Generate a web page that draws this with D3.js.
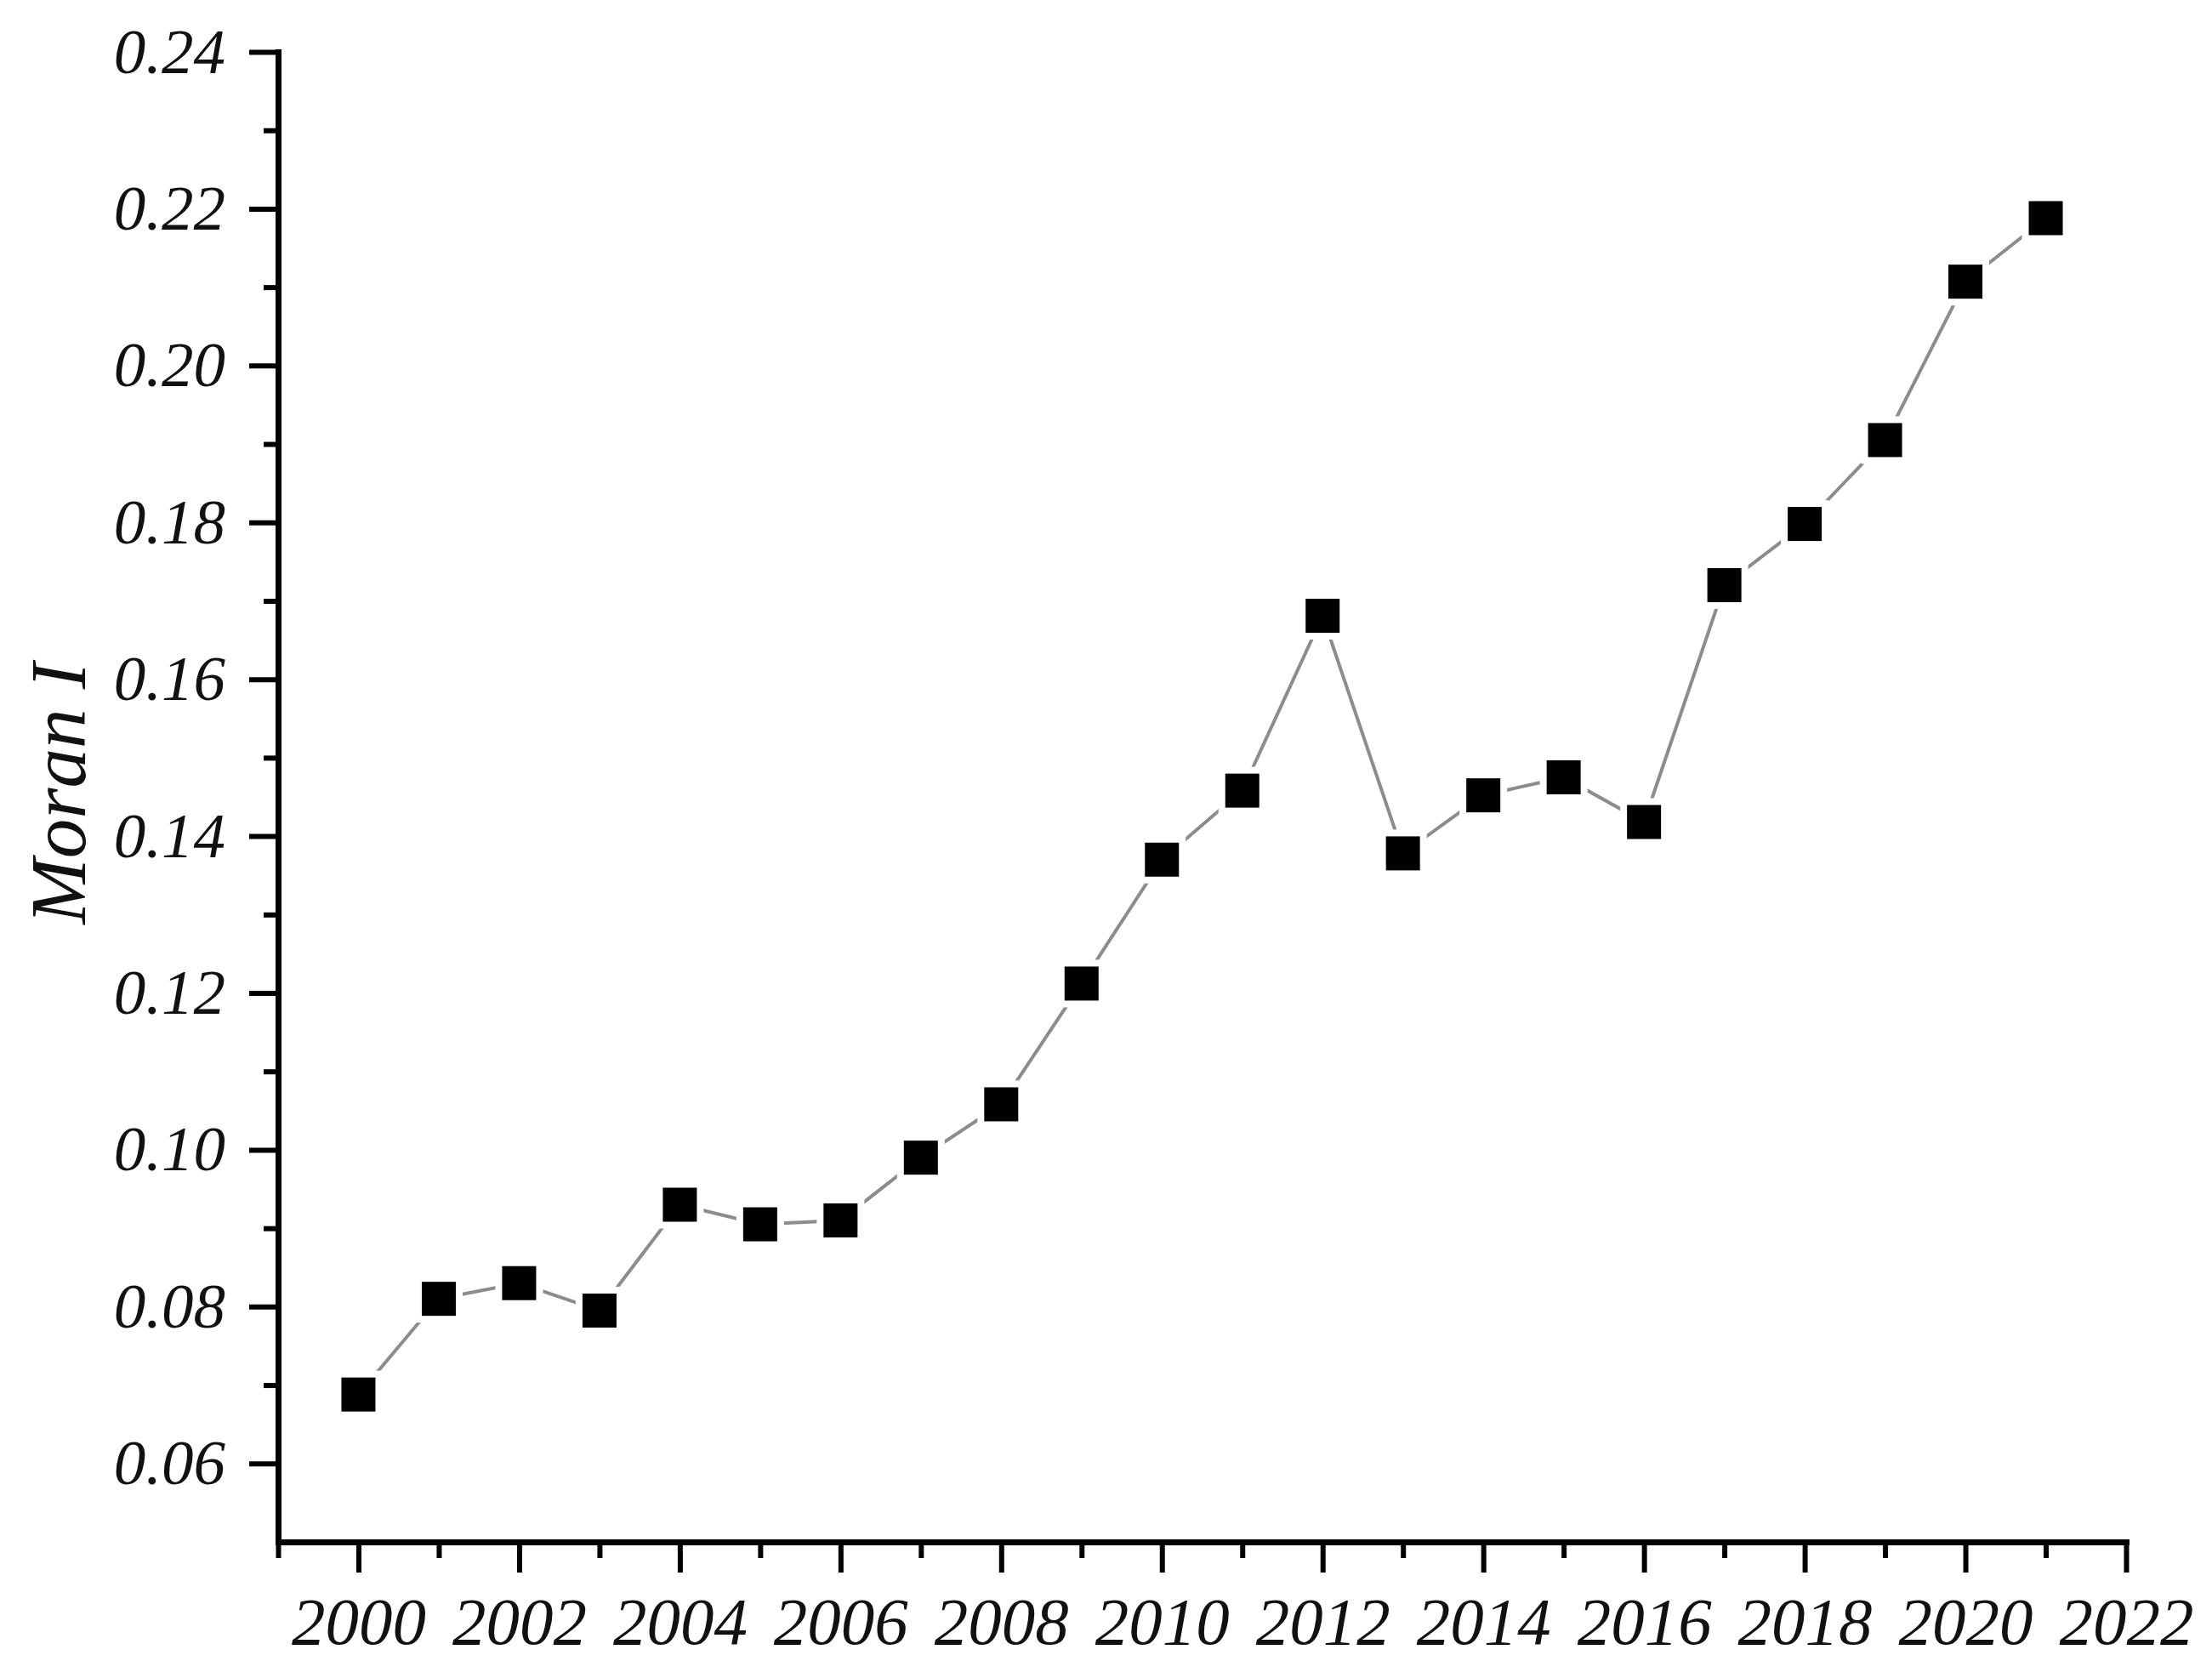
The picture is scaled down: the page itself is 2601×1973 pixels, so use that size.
<html>
<head>
<script src="https://d3js.org/d3.v7.min.js"></script>
<style>
  body { margin: 0; background: #fff; }
  svg { font-family: "Liberation Serif", "Times New Roman", serif; }
</style>
</head>
<body>
<svg id="chart"></svg>
<script>
// data
const years = [2000, 2001, 2002, 2003, 2004, 2005, 2006, 2007, 2008, 2009, 2010,
               2011, 2012, 2013, 2014, 2015, 2016, 2017, 2018, 2019, 2020, 2021];
const moranI = [0.0688, 0.0810, 0.0830, 0.0795, 0.0930, 0.0905, 0.0910, 0.0990, 0.1058, 0.1212, 0.1370,
                0.1458, 0.1681, 0.1378, 0.1452, 0.1475, 0.1418, 0.1720, 0.1798, 0.1905, 0.2107, 0.2188];
const xMajor = [2000, 2002, 2004, 2006, 2008, 2010, 2012, 2014, 2016, 2018, 2020, 2022];
const xMinor = [1999, 2001, 2003, 2005, 2007, 2009, 2011, 2013, 2015, 2017, 2019, 2021];
const yMajor = [0.06, 0.08, 0.10, 0.12, 0.14, 0.16, 0.18, 0.20, 0.22, 0.24];
const yMinor = [0.07, 0.09, 0.11, 0.13, 0.15, 0.17, 0.19, 0.21, 0.23];

const width = 2601, height = 1973;
const margin = { top: 61, right: 101, bottom: 160, left: 327 };

const svg = d3.select("#chart")
    .attr("width", width)
    .attr("height", height);

svg.append("rect").attr("width", width).attr("height", height).attr("fill", "#fff");

const x = d3.scaleLinear().domain([1999, 2022]).range([margin.left, width - margin.right]);
const y = d3.scaleLinear().domain([0.05, 0.24]).range([height - margin.bottom, margin.top]);

// x axis
svg.append("g")
    .attr("class", "xaxis")
    .attr("transform", `translate(0, ${height - margin.bottom})`)
    .call(d3.axisBottom(x).tickValues(xMajor).tickFormat(d3.format("d")).tickSize(36).tickSizeOuter(0).tickPadding(28));
svg.append("g")
    .attr("transform", `translate(0, ${height - margin.bottom})`)
    .call(d3.axisBottom(x).tickValues(xMinor).tickFormat("").tickSize(19))
    .call(g => g.select(".domain").remove());

// y axis
svg.append("g")
    .attr("class", "yaxis")
    .attr("transform", `translate(${margin.left}, 0)`)
    .call(d3.axisLeft(y).tickValues(yMajor).tickFormat(d3.format(".2f")).tickSize(34).tickSizeOuter(0).tickPadding(28));
svg.append("g")
    .attr("transform", `translate(${margin.left}, 0)`)
    .call(d3.axisLeft(y).tickValues(yMinor).tickFormat("").tickSize(17))
    .call(g => g.select(".domain").remove());

svg.selectAll("g").attr("font-family", null);
svg.selectAll(".domain").attr("stroke", "#000").attr("stroke-width", 7).attr("stroke-linecap", "square");
svg.selectAll(".tick line").attr("stroke", "#000").attr("stroke-width", 6);
svg.selectAll(".tick text")
    .attr("fill", "#111")
    .style("font-family", "'Liberation Serif', 'Times New Roman', serif")
    .style("font-style", "italic");
svg.selectAll(".xaxis .tick text").style("font-size", "79px");
svg.selectAll(".yaxis .tick text").style("font-size", "75px");

// y axis title
svg.append("text")
    .attr("transform", `translate(100, 933) rotate(-90)`)
    .attr("text-anchor", "middle")
    .style("font-size", "93px")
    .style("font-style", "italic")
    .attr("fill", "#111")
    .text("Moran I");

// line
const data = years.map((yr, i) => ({ year: yr, value: moranI[i] }));
svg.append("path")
    .datum(data)
    .attr("fill", "none")
    .attr("stroke", "#8c8c8c")
    .attr("stroke-width", 4)
    .attr("d", d3.line().x(d => x(d.year)).y(d => y(d.value)));

// markers with a small white gap round them
const ms = 40;
svg.selectAll("rect.gap")
    .data(data)
    .join("rect")
    .attr("class", "gap")
    .attr("x", d => x(d.year) - ms / 2 - 8)
    .attr("y", d => y(d.value) - ms / 2 - 8)
    .attr("width", ms + 16)
    .attr("height", ms + 16)
    .attr("fill", "#fff");
svg.selectAll("rect.mark")
    .data(data)
    .join("rect")
    .attr("class", "mark")
    .attr("x", d => x(d.year) - ms / 2)
    .attr("y", d => y(d.value) - ms / 2)
    .attr("width", ms)
    .attr("height", ms)
    .attr("fill", "#000");
</script>
</body>
</html>
